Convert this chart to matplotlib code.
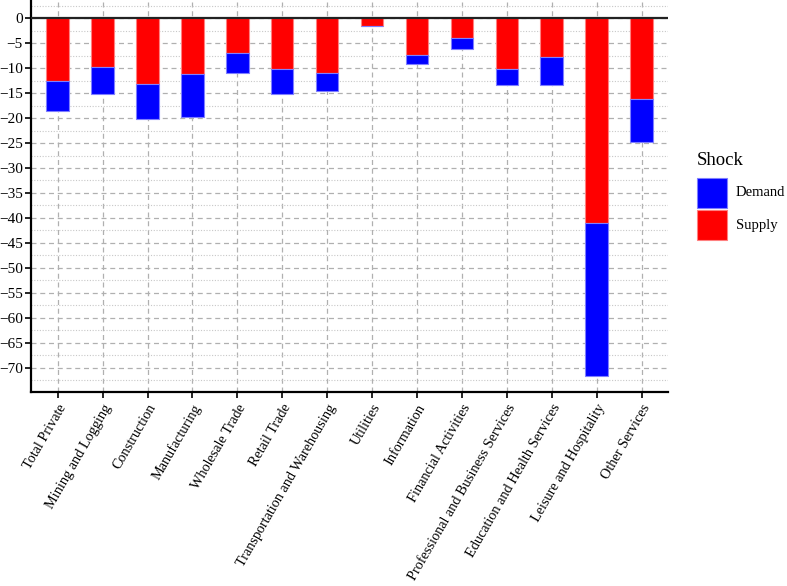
import matplotlib
matplotlib.use("Agg")
import matplotlib.pyplot as plt
from matplotlib.patches import Rectangle
from matplotlib.ticker import MultipleLocator
import numpy as np

plt.rcParams['font.family'] = ['Liberation Serif', 'DejaVu Serif']

categories = ["Total Private", "Mining and Logging", "Construction", "Manufacturing",
              "Wholesale Trade", "Retail Trade", "Transportation and Warehousing",
              "Utilities", "Information", "Financial Activities",
              "Professional and Business Services", "Education and Health Services",
              "Leisure and Hospitality", "Other Services"]
supply = [-12.6, -9.8, -13.25, -11.25, -6.9, -10.2, -10.9,
          -1.5, -7.4, -3.9, -10.25, -7.8, -41.1, -16.1]
demand = [-5.95, -5.3, -6.85, -8.45, -4.1, -4.9, -3.6,
          0.0, -1.8, -2.2, -3.15, -5.5, -30.5, -8.7]
series_names = ["Demand", "Supply"]
series_colors = {"Demand": "#0000ff", "Supply": "#ff0000"}
edge_colors = {"Demand": "#7f7fff", "Supply": "#ff8080"}

W, H = 787, 586
fig = plt.figure(figsize=(W / 100, H / 100), dpi=100)
ax = fig.add_axes([31 / W, 1 - 392 / H, (668 - 31) / W, 392 / H])

x = np.arange(len(categories))
ax.bar(x, supply, width=0.5, color=series_colors["Supply"],
       edgecolor=edge_colors["Supply"], linewidth=0.8, zorder=3)
ax.bar(x, demand, width=0.5, bottom=supply, color=series_colors["Demand"],
       edgecolor=edge_colors["Demand"], linewidth=0.8, zorder=3)

ax.set_xlim(-0.595, 13.59)
ax.set_ylim(-74.9, 3.67)
ax.yaxis.set_major_locator(MultipleLocator(5))
ax.yaxis.set_minor_locator(MultipleLocator(2.5))
ax.set_xticks(x)
ax.set_xticklabels(categories, rotation=60, ha='right', rotation_mode='anchor',
                   fontsize=10.3)
ax.tick_params(axis='y', labelsize=11, length=4, width=1.2, direction='out', pad=2)
ax.tick_params(axis='y', which='minor', length=0)
ax.tick_params(axis='x', length=4, width=1.2, direction='out', pad=3)

ax.grid(True, which='major', axis='both', color='#b0b0b0', linestyle=(0, (4, 3)),
        linewidth=0.9, zorder=0)
ax.grid(True, which='minor', axis='y', color='#c8c8c8', linestyle=(0, (1, 1.5)),
        linewidth=0.8, zorder=0)
ax.axhline(0, color='#222222', linewidth=1.6, zorder=4)

for s in ['top', 'right']:
    ax.spines[s].set_visible(False)
for s in ['left', 'bottom']:
    ax.spines[s].set_linewidth(1.6)
    ax.spines[s].set_color('black')

# legend drawn manually
fig.text(697 / W, 1 - 160.5 / H, "Shock", fontsize=13.5, va='center', ha='left')
for i, name in enumerate(series_names):
    y0 = 178 + i * 32
    fig.patches.append(Rectangle((697 / W, 1 - (y0 + 29.5) / H), 30 / W, 29.5 / H,
                                 transform=fig.transFigure,
                                 facecolor=series_colors[name],
                                 edgecolor=edge_colors[name], linewidth=0.8))
    fig.text(736 / W, 1 - (y0 + 15) / H, name, fontsize=10.5, va='center', ha='left')

fig.savefig("out.png", dpi=100)
